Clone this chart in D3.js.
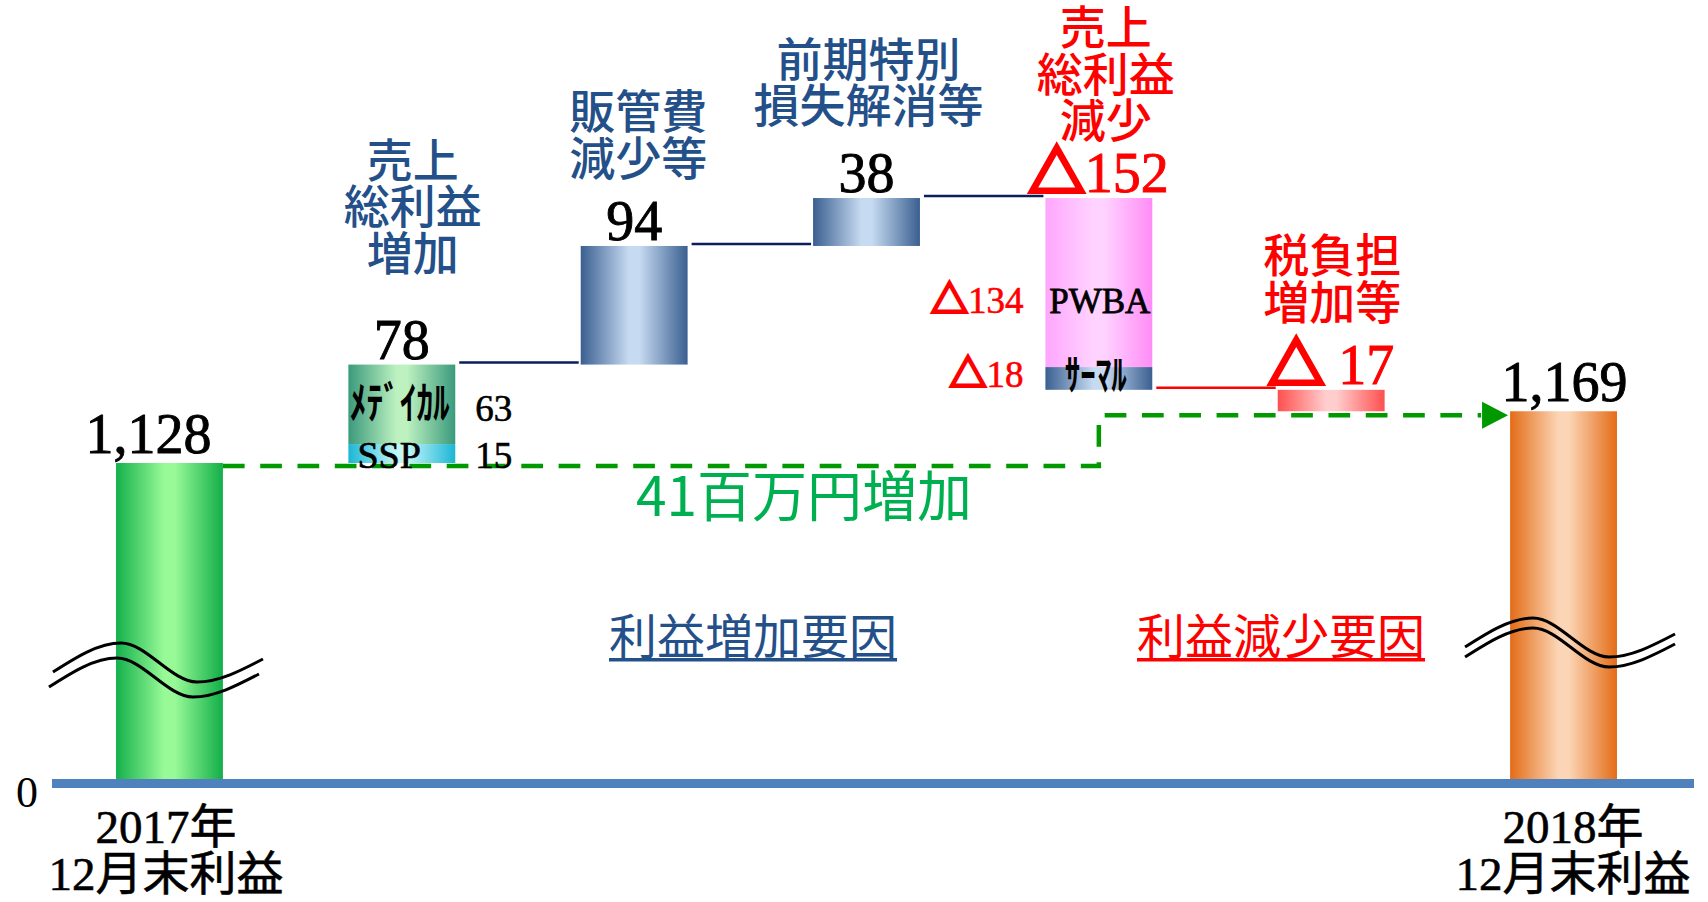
<!DOCTYPE html>
<html><head><meta charset="utf-8">
<script src="https://cdn.jsdelivr.net/npm/d3@7"></script>
<style>body{margin:0;background:#fff}svg{display:block}</style>
</head><body>
<svg id="c" width="1708" height="902"></svg>
<script>
// ---------------- data ----------------
const categories = ["2017年末", "売上総利益増加", "販管費減少等", "前期特別損失解消等", "売上総利益減少", "税負担増加等", "2018年末"];
const categoryLines = [["2017年","12月末利益"], ["売上","総利益","増加"], ["販管費","減少等"], ["前期特別","損失解消等"], ["売上","総利益","減少"], ["税負担","増加等"], ["2018年","12月末利益"]];
const startValue = 1128;
const endValue = 1169;
const changeValues = [78, 94, 38, -152, -17];
const changeLabels = ["78", "94", "38", "△152", "△ 17"];
const totalLabels = ["1,128", "1,169"];
const gpUpSegments = [{name:"SSP", value:15}, {name:"ﾒﾃﾞｲｶﾙ", value:63}];
const gpDownSegments = [{name:"PWBA", value:-134}, {name:"ｻｰﾏﾙ", value:-18}];
const netChangeLabel = "41百万円増加";
const groupLabels = ["利益増加要因", "利益減少要因"];
const zeroTick = [0];

// ---------------- layout ----------------
const svg = d3.select("#c");
const x = d3.scaleBand().domain(categories).range([53.3, 1679.7]).paddingInner(0.54).paddingOuter(0.27);
const bw = x.bandwidth();
// broken value axis: 0 .. 1000 compressed, 1000 .. 1340 to scale
const y = d3.scaleLinear().domain([0, 1000, 1340]).range([779, 624.5, 195.5]);

const BLUE = "#24508a", RED = "#ff0000", NAVY = "#0a1f5c", GREEN_TXT = "#00b050";
const SERIF = "'Liberation Serif','Noto Sans CJK JP',serif";
const SANS = "'Noto Sans CJK JP','Noto Sans',sans-serif";
const labelLift = [0, 24, 0, 5, -10, 0, 0];
const labelShiftX = [0, 11, 4, 2, 7, 1, 0];

// gradients
const defs = svg.append("defs");
const grads = {
  green:  ["#14b04c", "#97fa97", "#12ae48"],
  orange: ["#e36c17", "#fbd5b5", "#e36c17"],
  blue:   ["#3a5f90", "#c6daf1", "#3a5f90"],
  red:    ["#ff4f4f", "#ffcdcd", "#ff4f4f"],
  teal:   ["#3a9a7c", "#bdf1c0", "#3a9a7c"],
  cyan:   ["#1cb6d6", "#c2f6f8", "#1cb6d6"],
  pink:   ["#ffa6fd", "#ffd3ff", "#ff8cf6"]
};
Object.entries(grads).forEach(([k, c]) => {
  const g = defs.append("linearGradient").attr("id", "g-" + k).attr("x1", 0).attr("x2", 1).attr("y1", 0).attr("y2", 0);
  g.append("stop").attr("offset", "0%").attr("stop-color", c[0]);
  g.append("stop").attr("offset", "45%").attr("stop-color", c[1]);
  g.append("stop").attr("offset", "55%").attr("stop-color", c[1]);
  g.append("stop").attr("offset", "100%").attr("stop-color", c[2]);
});
const segGrad = {"SSP":"cyan", "ﾒﾃﾞｲｶﾙ":"teal", "PWBA":"pink", "ｻｰﾏﾙ":"blue"};

// helper: write a label whose "△" is drawn heavy in the CJK font
function putDelta(sel, str, fs) {
  const m = str.match(/^(△)(.*)$/);
  if (!m) { sel.text(str); return; }
  sel.append("tspan").attr("font-family", SANS).attr("font-weight", 700).attr("stroke-width", fs * 0.075).text(m[1]);
  sel.append("tspan").text(m[2]);
}

// ---------------- waterfall computation ----------------
let run = startValue;
const steps = changeValues.map((v, i) => {
  const from = run, to = run + v; run = to;
  return {cat: categories[i + 1], i: i + 1, from, to, lo: Math.min(from, to), hi: Math.max(from, to), v, label: changeLabels[i]};
});

const totals = [
  {cat: categories[0], i: 0, value: startValue, grad: "green", label: totalLabels[0], dx: -21},
  {cat: categories[6], i: 6, value: endValue, grad: "orange", label: totalLabels[1], dx: 1}
];

// axis line
svg.append("rect").attr("x", 52).attr("y", y(0)).attr("width", 1694 - 52).attr("height", 9).attr("fill", "#4f81bd");

svg.selectAll("rect.total").data(totals).join("rect").attr("class", "total")
  .attr("x", d => x(d.cat)).attr("width", bw)
  .attr("y", d => y(d.value)).attr("height", d => y(0) - y(d.value))
  .attr("fill", d => `url(#g-${d.grad})`);

function segmentsFor(step) {
  if (step.i === 1) { let b = step.from; return gpUpSegments.map(s => { const r = {name: s.name, v: s.value, lo: b, hi: b + s.value}; b += s.value; return r; }); }
  if (step.i === 4) { let t = step.from; return gpDownSegments.map(s => { const r = {name: s.name, v: s.value, hi: t, lo: t + s.value}; t += s.value; return r; }); }
  return null;
}
steps.forEach(s => {
  const segs = segmentsFor(s);
  if (segs) {
    svg.selectAll(null).data(segs).join("rect")
      .attr("x", x(s.cat)).attr("width", bw)
      .attr("y", d => y(d.hi)).attr("height", d => y(d.lo) - y(d.hi))
      .attr("fill", d => `url(#g-${segGrad[d.name]})`);
    s.segs = segs;
  } else {
    svg.append("rect").attr("x", x(s.cat)).attr("width", bw)
      .attr("y", y(s.hi)).attr("height", y(s.lo) - y(s.hi))
      .attr("fill", s.v > 0 ? "url(#g-blue)" : "url(#g-red)");
  }
});

// connectors
steps.slice(0, -1).forEach((s, k) => {
  const nxt = steps[k + 1];
  svg.append("line")
    .attr("x1", x(s.cat) + bw + 4).attr("x2", x(nxt.cat) - 2)
    .attr("y1", y(s.to) - 2).attr("y2", y(s.to) - 2)
    .attr("stroke", s.v < 0 ? RED : NAVY).attr("stroke-width", 2.5);
});

// break marks
const wave = [[0, 0], [68, -29], [144, 10], [210, -13]];
const waveLine = d3.line().curve(d3.curveMonotoneX);
[{i: 0, dx: -116.5, y: 672, off: [-4, 15]}, {i: 6, dx: -98.5, y: 647, off: [0, 10]}].forEach(b => {
  const cx = x(categories[b.i]) + bw / 2 + b.dx;
  [[0, 0], b.off].forEach(o => {
    svg.append("path").attr("d", waveLine(wave.map(p => [cx + p[0] + o[0], b.y + p[1] + o[1]])))
      .attr("fill", "none").attr("stroke", "#000").attr("stroke-width", 3);
  });
});

// dashed net-change arrow
const xs = x(categories[0]) + bw, xStep = x(categories[4]) + bw / 2, xEnd = x(categories[6]);
const yA = y(startValue) + 3, yB = y(endValue) + 4;
svg.append("path").attr("d", d3.line()([[xs, yA], [xStep, yA], [xStep, yB], [xEnd - 29, yB]]))
  .attr("fill", "none").attr("stroke", "#009900").attr("stroke-width", 4.5).attr("stroke-dasharray", "21.7 15.6");
svg.append("path").attr("d", d3.line()([[xEnd - 28, yB - 13.5], [xEnd - 2, yB], [xEnd - 28, yB + 13.5]]) + "Z").attr("fill", "#009900");

// value labels
svg.selectAll("text.tot").data(totals).join("text").attr("class", "tot")
  .attr("x", d => x(d.cat) + bw / 2 + d.dx).attr("y", d => y(d.value) - 10)
  .attr("text-anchor", "middle").attr("font-family", SERIF).attr("font-size", 56)
  .attr("fill", "#000").attr("stroke", "#000").attr("stroke-width", 0.9).text(d => d.label);
steps.forEach(s => {
  const col = s.v < 0 ? RED : "#000";
  const t = svg.append("text").attr("x", x(s.cat) + bw / 2).attr("y", y(s.hi) - 6)
    .attr("text-anchor", "middle").attr("font-family", SERIF).attr("font-size", 56)
    .attr("fill", col).attr("stroke", col).attr("stroke-width", 0.9);
  putDelta(t, s.label, 56);
});

// category labels above change bars
steps.forEach(s => {
  const lines = categoryLines[s.i];
  const last = y(s.hi) - 6 - 65 - labelLift[s.i];
  const t = svg.append("text").attr("text-anchor", "middle").attr("font-family", SANS).attr("font-weight", 500)
    .attr("font-size", 46).attr("fill", s.v < 0 ? RED : BLUE);
  lines.forEach((ln, k) => t.append("tspan").attr("x", x(s.cat) + bw / 2 + labelShiftX[s.i]).attr("y", last - (lines.length - 1 - k) * 46.5).text(ln));
});

// segment labels
const fmt = v => v < 0 ? "△" + Math.abs(v) : String(v);
steps.filter(s => s.segs).forEach(s => {
  s.segs.forEach(seg => {
    const mid = y((seg.lo + seg.hi) / 2);
    let lx, ly;
    if (seg.name === "SSP") {
      lx = x(s.cat) + 9; ly = y(seg.lo) + 5;
      svg.append("text").attr("x", lx).attr("y", ly).attr("font-family", SERIF).attr("font-size", 38)
        .attr("fill", "#000").attr("stroke", "#000").attr("stroke-width", 0.7).text(seg.name);
    } else if (seg.name === "PWBA") {
      lx = x(s.cat) + bw / 2 + 1; ly = mid + 30;
      svg.append("text").attr("x", lx).attr("y", ly).attr("text-anchor", "middle").attr("font-family", SERIF).attr("font-size", 35)
        .attr("fill", "#000").attr("stroke", "#000").attr("stroke-width", 0.8).text(seg.name);
    } else {
      const big = seg.name === "ﾒﾃﾞｲｶﾙ";
      lx = x(s.cat) + bw / 2 + (big ? -2 : -3); ly = mid + (big ? 15 : 12);
      svg.append("text").attr("transform", `translate(${lx},${ly}) scale(${big ? 0.98 : 1},${big ? 1.3 : 1.35})`)
        .attr("text-anchor", "middle").attr("font-family", SANS).attr("font-weight", 700)
        .attr("font-size", big ? 34 : 31).attr("fill", "#000").text(seg.name);
    }
    const pos = seg.v > 0;
    const col = pos ? "#000" : RED;
    const t = svg.append("text")
      .attr("x", pos ? x(s.cat) + bw + 20 : x(s.cat) - 22)
      .attr("y", pos ? ly + (seg.name === "SSP" ? 0 : 2) : ly - (seg.name === "PWBA" ? 0 : 3))
      .attr("text-anchor", pos ? "start" : "end")
      .attr("font-family", SERIF).attr("font-size", 37).attr("fill", col).attr("stroke", col).attr("stroke-width", 0.6);
    putDelta(t, fmt(seg.v), 37);
  });
});

// bottom category labels
totals.forEach((t, k) => {
  const lines = categoryLines[t.i];
  const tx = svg.append("text").attr("text-anchor", "middle").attr("font-family", SERIF).attr("font-size", 47)
    .attr("fill", "#000").attr("stroke", "#000").attr("stroke-width", 0.6);
  lines.forEach((ln, j) => tx.append("tspan").attr("x", x(t.cat) + bw / 2 + (k ? 9.5 : -3.5)).attr("y", 843 + j * 47).text(ln));
});

// zero tick via axis
const yAxis = svg.append("g").attr("transform", "translate(40,0)")
  .call(d3.axisLeft(y).tickValues(zeroTick).tickSize(0).tickPadding(2));
yAxis.select(".domain").remove();
yAxis.selectAll("text").attr("font-family", SERIF).attr("font-size", 44).attr("fill", "#000").attr("dy", "0.32em")
  .attr("transform", "translate(0,13)");

// annotations
svg.append("text").attr("x", 804).attr("y", 516).attr("text-anchor", "middle").attr("font-family", SANS)
  .attr("font-weight", 400).attr("font-size", 55).attr("fill", GREEN_TXT).text(netChangeLabel);
[{t: groupLabels[0], cx: 753, c: BLUE}, {t: groupLabels[1], cx: 1281, c: RED}].forEach(g => {
  const tx = svg.append("text").attr("x", g.cx).attr("y", 654).attr("text-anchor", "middle").attr("font-family", SANS)
    .attr("font-weight", 400).attr("font-size", 48).attr("fill", g.c).text(g.t);
  const w = tx.node().getComputedTextLength();
  svg.append("rect").attr("x", g.cx - w / 2).attr("y", 658).attr("width", w).attr("height", 3.5).attr("fill", g.c);
});
</script>
</body></html>
